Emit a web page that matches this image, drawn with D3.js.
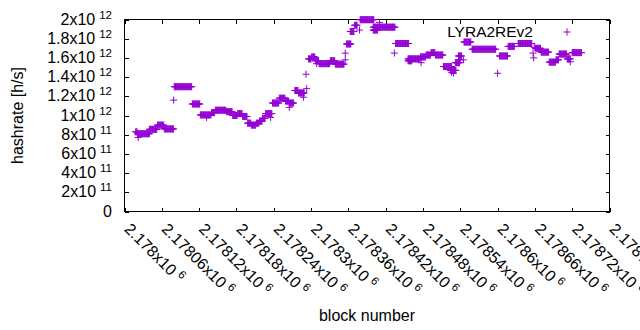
<!DOCTYPE html>
<html>
<head>
<meta charset="utf-8">
<script src="https://cdn.jsdelivr.net/npm/d3@7"></script>
<style>
body { margin: 0; background: #fff; }
text { font-family: "Liberation Sans", Arial, sans-serif; fill: #000; }
</style>
</head>
<body>
<svg id="viz"></svg>
<script>
// blocks are given as offset from blockBase, hashrate in units of 10^12 h/s
// each run = consecutive blocks that share the same hashrate
const blockBase = 2178000;
const runStart  = [18, 21, 22, 40, 53, 64, 79, 80, 109, 122, 132, 140, 146, 164, 174, 182, 190, 198, 204, 212, 217, 222, 227, 235, 238, 249, 259, 265, 265, 274, 280, 288, 293, 292, 296, 301, 307, 309, 313, 331, 339, 355, 355, 357, 363, 370, 378, 379, 400, 400, 410, 412, 434, 436, 456, 456, 476, 477, 485, 493, 500, 513, 524, 526, 529, 532, 537, 540, 545, 546, 559, 600, 603, 617, 633, 657, 658, 659, 661, 670, 683, 694, 699, 712, 717, 720];
const runLength = [3, 20, 1, 13, 11, 16, 1, 29, 13, 18, 1, 6, 18, 10, 8, 8, 8, 6, 8, 5, 5, 5, 11, 1, 11, 10, 6, 8, 1, 6, 10, 1, 1, 1, 5, 6, 6, 1, 18, 8, 15, 1, 1, 8, 7, 5, 1, 23, 8, 12, 1, 24, 1, 22, 20, 7, 9, 1, 8, 7, 13, 14, 10, 1, 1, 8, 6, 1, 1, 12, 39, 1, 14, 11, 23, 1, 1, 1, 9, 13, 11, 5, 13, 6, 1, 16];
const runRate   = [0.83, 0.81, 0.77, 0.856, 0.90, 0.86, 1.16, 1.30, 1.12, 1.006, 0.98, 1.03, 1.055, 1.04, 1.00, 1.02, 0.99, 0.92, 0.90, 0.92, 0.94, 0.97, 1.02, 0.98, 1.13, 1.18, 1.15, 1.13, 1.085, 1.26, 1.235, 1.19, 1.28, 1.43, 1.59, 1.61, 1.57, 1.54, 1.54, 1.57, 1.535, 1.58, 1.65, 1.745, 1.875, 1.94, 1.89, 1.998, 1.89, 1.92, 1.97, 1.92, 1.65, 1.75, 1.59, 1.57, 1.61, 1.55, 1.63, 1.655, 1.63, 1.51, 1.47, 1.45, 1.44, 1.55, 1.62, 1.58, 1.58, 1.765, 1.69, 1.44, 1.62, 1.72, 1.75, 1.65, 1.60, 1.71, 1.70, 1.66, 1.556, 1.58, 1.64, 1.59, 1.56, 1.655];

const xTicks = [2178000, 2178060, 2178120, 2178180, 2178240, 2178300, 2178360, 2178420, 2178480, 2178540, 2178600, 2178660, 2178720, 2178780];
const yTicks = [0, 2e11, 4e11, 6e11, 8e11, 1e12, 1.2e12, 1.4e12, 1.6e12, 1.8e12, 2e12];
const seriesName = "LYRA2REv2";

const app = {
    init() {
        const data = [];
        runStart.forEach((s, i) => {
            for (let k = 0; k < runLength[i]; k++) {
                data.push({ block: blockBase + s + k, rate: runRate[i] * 1e12 });
            }
        });
        this.createGraph(data);
    },

    createGraph(data) {
        const width = 640;
        const height = 330;
        const left = 124.5, right = 609.5, top = 19.5, bottom = 211.5;
        const color = "#9400d3";

        this.svg = d3.select("#viz").attr("width", width).attr("height", height);

        const x = d3.scaleLinear().domain([xTicks[0], xTicks[xTicks.length - 1]]).range([left, right]);
        const y = d3.scaleLinear().domain([0, 2e12]).range([bottom, top]);

        // inward ticks on all four sides, like gnuplot's mirrored tics
        const tick = (axis) => axis.tickSize(-4).tickFormat("").tickSizeOuter(0);
        this.svg.append("g").attr("transform", `translate(${left},0)`).call(tick(d3.axisLeft(y).tickValues(yTicks)));
        this.svg.append("g").attr("transform", `translate(${right},0)`).call(tick(d3.axisRight(y).tickValues(yTicks)));
        this.svg.append("g").attr("transform", `translate(0,${bottom})`).call(tick(d3.axisBottom(x).tickValues(xTicks)));
        this.svg.append("g").attr("transform", `translate(0,${top})`).call(tick(d3.axisTop(x).tickValues(xTicks)));
        this.svg.selectAll(".domain").remove();
        this.svg.selectAll(".tick line").attr("stroke", "#000").attr("shape-rendering", "crispEdges");
        this.svg.append("rect").attr("x", left).attr("y", top).attr("width", right - left).attr("height", bottom - top)
            .attr("fill", "none").attr("stroke", "#000").attr("shape-rendering", "crispEdges");

        // y tick labels: mantissa x10 with superscript exponent
        yTicks.forEach(v => {
            const t = this.svg.append("text").attr("x", 112).attr("y", y(v) + 5).attr("text-anchor", "end").style("font-size", "16px");
            if (v === 0) { t.text("0"); return; }
            const e = Math.floor(Math.log10(v) + 1e-9);
            const m = parseFloat((v / Math.pow(10, e)).toFixed(2));
            t.append("tspan").text(m + "x10");
            t.append("tspan").attr("dx", 4).attr("dy", -6).style("font-size", "11.5px").text(e);
        });

        // x tick labels, rotated
        xTicks.forEach(v => {
            const t = this.svg.append("text").attr("transform", `translate(${x(v) - 1},230) rotate(45)`).style("font-size", "16px");
            t.append("tspan").text(parseFloat((v / 1e6).toFixed(5)) + "x10");
            t.append("tspan").attr("dx", 4).attr("dy", -6).style("font-size", "11.5px").text(6);
        });

        this.svg.append("text").attr("transform", "rotate(-90)").attr("x", -(top + bottom) / 2).attr("y", 23)
            .attr("text-anchor", "middle").style("font-size", "16px").text("hashrate [h/s]");
        this.svg.append("text").attr("x", (left + right) / 2).attr("y", 321)
            .attr("text-anchor", "middle").style("font-size", "16px").text("block number");

        const plus = (px, py) => `M${px - 3.5},${py}h7M${px},${py - 3.5}v7`;

        this.svg.append("path")
            .attr("d", data.map(d => plus(x(d.block), y(d.rate))).join(""))
            .attr("fill", "none").attr("stroke", color).attr("stroke-width", 1);

        // key
        this.svg.append("text").attr("x", 533).attr("y", 37).attr("text-anchor", "end").style("font-size", "15.5px").text(seriesName);
        this.svg.append("path").attr("d", plus(567, 32)).attr("fill", "none").attr("stroke", color).attr("stroke-width", 1);
    }
}

window.addEventListener("DOMContentLoaded", () => app.init())
</script>
</body>
</html>
